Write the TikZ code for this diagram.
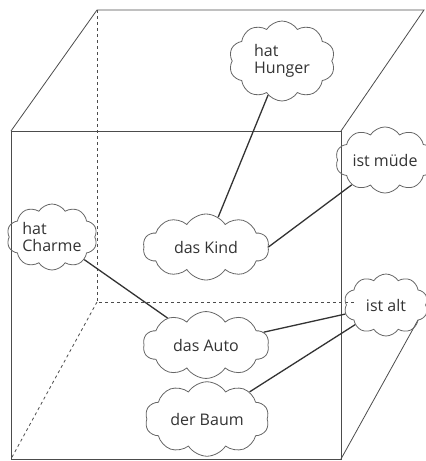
\documentclass[tikz,border=0pt]{standalone}
\usepackage{fontspec}
\setmainfont{Open Sans}
\usetikzlibrary{shapes.symbols}
\tikzset{every picture/.style={line width=0.75pt}}
\tikzset{
  wolke/.style={cloud, draw=black!60, line width=0.8pt, cloud puffs=10, cloud puff arc=115,
    aspect=1.8, inner sep=1pt, align=left, font=\fontsize{16}{17}\selectfont, text=black!80},
  kante/.style={draw=black!70, line width=0.8pt},
  verbindung/.style={draw=black!80, line width=1.3pt}
}
\begin{document}
\begin{tikzpicture}[x=1pt,y=1pt,yscale=-1,xscale=1]
\useasboundingbox (0,0) rectangle (426,461);

%Box front face
\draw [kante] (11,131) rectangle (341,459);
%Box top face
\draw [kante] (11,131) -- (97,10) -- (424,10) -- (341,131);
%Hidden edges
\draw [kante, dashed] (97,10) -- (97,302) -- (355,302);
\draw [kante, dashed] (97,302) -- (11,459);
%Bottom right edge
\draw [kante] (341,459) -- (418,320);

% Clouds
\node [wolke, minimum width=106, minimum height=80] (hunger) at (282,61) {hat\\Hunger};
\node [wolke, minimum width=82, minimum height=58] (muede) at (385,160) {ist m\"ude};
\node [wolke, minimum width=86, minimum height=66] (charme) at (52,237) {hat\\Charme};
\node [wolke, minimum width=126, minimum height=66] (kind) at (206,247) {das Kind};
\node [wolke, minimum width=126, minimum height=62] (auto) at (206,345) {das Auto};
\node [wolke, minimum width=124, minimum height=58] (baum) at (207,419) {der Baum};
\node [wolke, minimum width=84, minimum height=62] (alt) at (386,305) {ist alt};

% Connectors
\draw [verbindung] (hunger) -- (kind);
\draw [verbindung] (muede) -- (kind.east);
\draw [verbindung] (charme) -- (auto);
\draw [verbindung] (auto) -- (alt);
\draw [verbindung] (baum) -- (alt);

\end{tikzpicture}
\end{document}
